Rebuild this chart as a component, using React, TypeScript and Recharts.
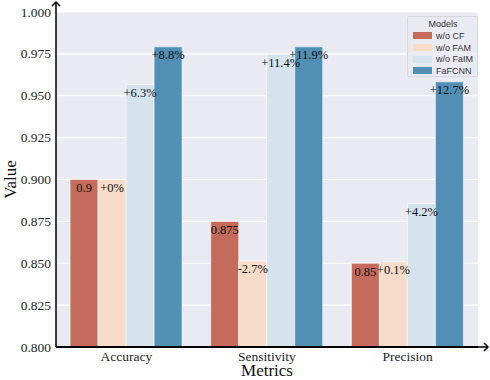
import { BarChart, Bar, XAxis, YAxis, CartesianGrid, Legend, LabelList } from "recharts";

const categories = ["Accuracy", "Sensitivity", "Precision"];
const seriesNames = ["w/o CF", "w/o FAM", "w/o FaIM", "FaFCNN"];
const seriesKeys = ["woCF", "woFAM", "woFaIM", "fafcnn"];
const colors = ["#c46b5c", "#f7dcca", "#d4e3ec", "#528fb4"];

const woCF = [0.9, 0.875, 0.85];
const woFAM = [0.9, 0.8514, 0.8509];
const woFaIM = [0.9567, 0.9748, 0.8857];
const fafcnn = [0.9792, 0.9792, 0.9583];

const woCFLabels = ["0.9", "0.875", "0.85"];
const woFAMLabels = ["+0%", "-2.7%", "+0.1%"];
const woFaIMLabels = ["+6.3%", "+11.4%", "+4.2%"];
const fafcnnLabels = ["+8.8%", "+11.9%", "+12.7%"];

const yTicks = [0.8, 0.825, 0.85, 0.875, 0.9, 0.925, 0.95, 0.975, 1.0];

const data = categories.map((name, i) => ({
  name,
  woCF: woCF[i],
  woFAM: woFAM[i],
  woFaIM: woFaIM[i],
  fafcnn: fafcnn[i],
  woCFLabel: woCFLabels[i],
  woFAMLabel: woFAMLabels[i],
  woFaIMLabel: woFaIMLabels[i],
  fafcnnLabel: fafcnnLabels[i],
}));

const serif = "Liberation Serif";
const sans = "Liberation Sans";

const renderLabel = (props: any) => {
  const { x, y, width, value } = props;
  return (
    <text
      x={x + width / 2}
      y={y + 8.5}
      textAnchor="middle"
      dominantBaseline="central"
      style={{ fontFamily: serif, fontSize: 12.5 }}
      fill="#111"
    >
      {value}
    </text>
  );
};

const YTick = (props: any) => {
  const { x, y, payload } = props;
  return (
    <text x={x} y={y} textAnchor="end" dominantBaseline="central" fill="#262626" style={{ fontFamily: serif, fontSize: 13.5 }}>
      {payload.value.toFixed(3)}
    </text>
  );
};

const XTick = (props: any) => {
  const { x, y, payload } = props;
  return (
    <text x={x} y={y + 4} textAnchor="middle" dominantBaseline="central" fill="#262626" style={{ fontFamily: serif, fontSize: 13.5 }}>
      {payload.value}
    </text>
  );
};

const renderLegend = () => (
  <div
    style={{
      background: "rgba(234,234,242,0.8)",
      border: "1px solid rgba(210,210,215,0.8)",
      borderRadius: 2,
      padding: "1px 4px 0 5px",
      fontFamily: sans,
      fontSize: 9,
      color: "#333",
      boxSizing: "border-box",
      width: 71,
      height: 61,
    }}
  >
    <div style={{ textAlign: "center", lineHeight: "12px" }}>Models</div>
    {seriesNames.map((n, i) => (
      <div key={n} style={{ display: "flex", alignItems: "center", height: 11.7 }}>
        <span style={{ width: 19, height: 7, background: colors[i], marginRight: 4 }} />
        <span>{n}</span>
      </div>
    ))}
  </div>
);

export default function App() {
  return (
    <div style={{ position: "absolute", left: 0, top: 0, fontFamily: serif }}>
      <svg width={0} height={0} style={{ position: "absolute" }}>
        <defs>
          <marker
            id="axisArrow"
            markerUnits="userSpaceOnUse"
            markerWidth={14}
            markerHeight={12}
            viewBox="0 -6 14 12"
            refX={0}
            refY={0}
            orient="auto-start-reverse"
            overflow="visible"
          >
            <path d="M0,0 L10,0 M6,-4 L10,0 L6,4" stroke="#000" strokeWidth={1.5} fill="none" />
          </marker>
        </defs>
      </svg>
      <BarChart
        width={490}
        height={380}
        data={data}
        margin={{ top: 12, right: 12, bottom: 0, left: 0 }}
        barCategoryGap="10%"
        barGap={0}
        style={{ fontFamily: serif }}
      >
        <CartesianGrid vertical={false} stroke="#ffffff" strokeWidth={1.2} fill="#eaeaf2" />
        <XAxis
          dataKey="name"
          height={33}
          tickLine={false}
          tickSize={3}
          tickMargin={2}
          axisLine={{ stroke: "#000", strokeWidth: 1.8, markerEnd: "url(#axisArrow)" }}
          tick={<XTick />}
          label={{ value: "Metrics", position: "insideBottom", offset: 4, fontSize: 17, fill: "#111", style: { fontFamily: serif } }}
        />
        <YAxis
          width={56}
          domain={[0.8, 1.0]}
          ticks={yTicks}
          allowDataOverflow
          tickLine={false}
          tickSize={3}
          tickMargin={2}
          axisLine={{ stroke: "#000", strokeWidth: 1.5, markerStart: "url(#axisArrow)" }}
          tick={<YTick />}
          label={{
            value: "Value",
            angle: -90,
            position: "insideLeft",
            offset: 10,
            fontSize: 17,
            fill: "#111",
            style: { textAnchor: "middle", fontFamily: serif },
          }}
        />
        <Legend
          layout="vertical"
          align="center"
          verticalAlign="middle"
          content={renderLegend}
          wrapperStyle={{ top: 16, left: 407, width: 71, height: 61 }}
        />
        {seriesKeys.map((k, i) => (
          <Bar
            key={k}
            dataKey={k}
            name={seriesNames[i]}
            fill={colors[i]}
            stroke="#ffffff"
            strokeWidth={0.6}
            isAnimationActive={false}
          >
            <LabelList dataKey={k + "Label"} content={renderLabel} />
          </Bar>
        ))}
      </BarChart>
    </div>
  );
}
